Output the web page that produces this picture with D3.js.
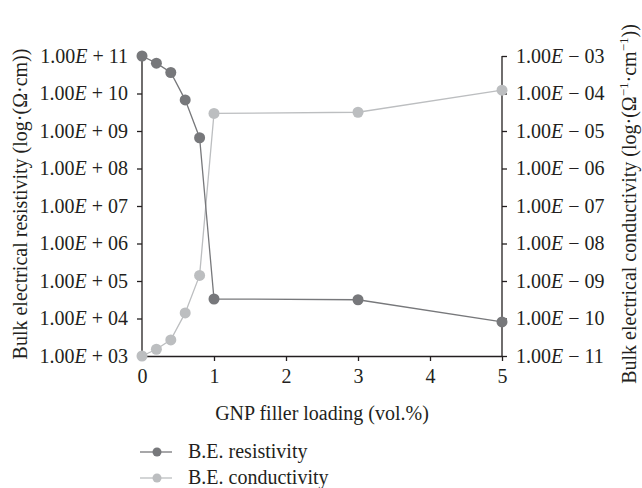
<!DOCTYPE html>
<html>
<head>
<meta charset="utf-8">
<script src="https://cdnjs.cloudflare.com/ajax/libs/d3/7.8.5/d3.min.js"></script>
<style>
  body { margin: 0; background: #fff; }
  text { font-family: "Liberation Serif", "DejaVu Serif", serif; fill: #231f20; }
</style>
</head>
<body>
<div id="chart"></div>
<script>
var w = 642, h = 488;

// data (log10 values)
var loading = [0, 0.2, 0.4, 0.6, 0.8, 1, 3, 5];
var resistivity = [11, 10.81, 10.56, 9.83, 8.82, 4.52, 4.5, 3.91];
var conductivity = [-11, -10.82, -10.57, -9.85, -8.85, -4.53, -4.5, -3.91];
var xTicks = [0, 1, 2, 3, 4, 5];
var leftTicks = [3, 4, 5, 6, 7, 8, 9, 10, 11];
var rightTicks = [-11, -10, -9, -8, -7, -6, -5, -4, -3];
var seriesNames = ["B.E. resistivity", "B.E. conductivity"];

var resC = "#77787b";
var conC = "#bcbec0";
var axisC = "#231f20";
var fs = 20;

var m = {left: 142, right: 502, top: 56, bottom: 356};

var svg = d3.select("#chart").append("svg")
  .attr("width", w)
  .attr("height", h);

var x = d3.scaleLinear().domain([0, 5]).range([m.left, m.right]);
var yL = d3.scaleLinear().domain([3, 11]).range([m.bottom, m.top]);
var yR = d3.scaleLinear().domain([-11, -3]).range([m.bottom, m.top]);

function pad2(v) {
  var a = Math.abs(v);
  return a < 10 ? "0" + a : "" + a;
}

// tick label like 1.00E + 11 with italic E
function sciLabel(sel, v) {
  sel.text(null);
  sel.append("tspan").text("1.00");
  sel.append("tspan").attr("font-style", "italic").text("E");
  sel.append("tspan").text((v < 0 ? " \u2212 " : " + ") + pad2(v));
}

// x axis
var gx = svg.append("g")
  .attr("transform", "translate(0," + m.bottom + ")")
  .call(d3.axisBottom(x).tickValues(xTicks).tickFormat(d3.format("d"))
    .tickSize(5).tickSizeOuter(0).tickPadding(8));

// left axis
var gl = svg.append("g")
  .attr("transform", "translate(" + m.left + ",0)")
  .call(d3.axisLeft(yL).tickValues(leftTicks).tickSize(5).tickSizeOuter(0).tickPadding(9));
gl.selectAll(".tick text").each(function(d) { sciLabel(d3.select(this), d); });

// right axis
var gr = svg.append("g")
  .attr("transform", "translate(" + m.right + ",0)")
  .call(d3.axisRight(yR).tickValues(rightTicks).tickSize(5).tickSizeOuter(0).tickPadding(9));
gr.selectAll(".tick text").each(function(d) { sciLabel(d3.select(this), d); });

[gx, gl, gr].forEach(function(g) {
  g.selectAll("path, line").attr("stroke", axisC).attr("stroke-width", 1.3);
  g.selectAll("text")
    .attr("font-family", "Liberation Serif, DejaVu Serif, serif")
    .attr("font-size", fs)
    .attr("fill", axisC);
});
gl.select(".domain").attr("d", "M0," + m.top + "V" + m.bottom);
gr.select(".domain").attr("d", "M0," + m.top + "V" + m.bottom);

// titles
svg.append("text")
  .attr("x", (m.left + m.right) / 2)
  .attr("y", 420)
  .attr("text-anchor", "middle")
  .attr("font-size", fs)
  .text("GNP filler loading (vol.%)");

svg.append("text")
  .attr("transform", "translate(27,204) rotate(-90)")
  .attr("text-anchor", "middle")
  .attr("font-size", fs)
  .text("Bulk electrical resistivity (log\u00b7(\u03a9\u00b7cm))");

var rt = svg.append("text")
  .attr("transform", "translate(636,204) rotate(-90)")
  .attr("text-anchor", "middle")
  .attr("font-size", fs);
rt.append("tspan").text("Bulk electrical conductivity (log\u00b7(\u03a9");
rt.append("tspan").attr("dy", -8).attr("font-size", 13).text("\u22121");
rt.append("tspan").attr("dy", 8).text("\u00b7cm");
rt.append("tspan").attr("dy", -8).attr("font-size", 13).text("\u22121");
rt.append("tspan").attr("dy", 8).text("))");

// series
var series = [
  {name: seriesNames[0], vals: resistivity, y: yL, color: resC},
  {name: seriesNames[1], vals: conductivity, y: yR, color: conC}
];

series.slice().reverse().forEach(function(s) {
  var pts = loading.map(function(d, i) { return [d, s.vals[i]]; });
  svg.append("path")
    .datum(pts)
    .attr("fill", "none")
    .attr("stroke", s.color)
    .attr("stroke-width", 1.3)
    .attr("d", d3.line()
      .x(function(d) { return x(d[0]); })
      .y(function(d) { return s.y(d[1]); }));
  svg.selectAll(null)
    .data(pts)
    .enter()
    .append("circle")
    .attr("cx", function(d) { return x(d[0]); })
    .attr("cy", function(d) { return s.y(d[1]); })
    .attr("r", 5.5)
    .attr("fill", s.color);
});

// legend
var lg = svg.append("g").selectAll("g")
  .data(series)
  .enter()
  .append("g")
  .attr("transform", function(d, i) { return "translate(140," + (452 + i * 26) + ")"; });
lg.append("line")
  .attr("x1", 0).attr("x2", 32)
  .attr("stroke", function(d) { return d.color; })
  .attr("stroke-width", 1.3);
lg.append("circle")
  .attr("cx", 17)
  .attr("r", 4.5)
  .attr("fill", function(d) { return d.color; });
lg.append("text")
  .attr("x", 48)
  .attr("y", 6)
  .attr("font-size", fs)
  .text(function(d) { return d.name; });
</script>
</body>
</html>
